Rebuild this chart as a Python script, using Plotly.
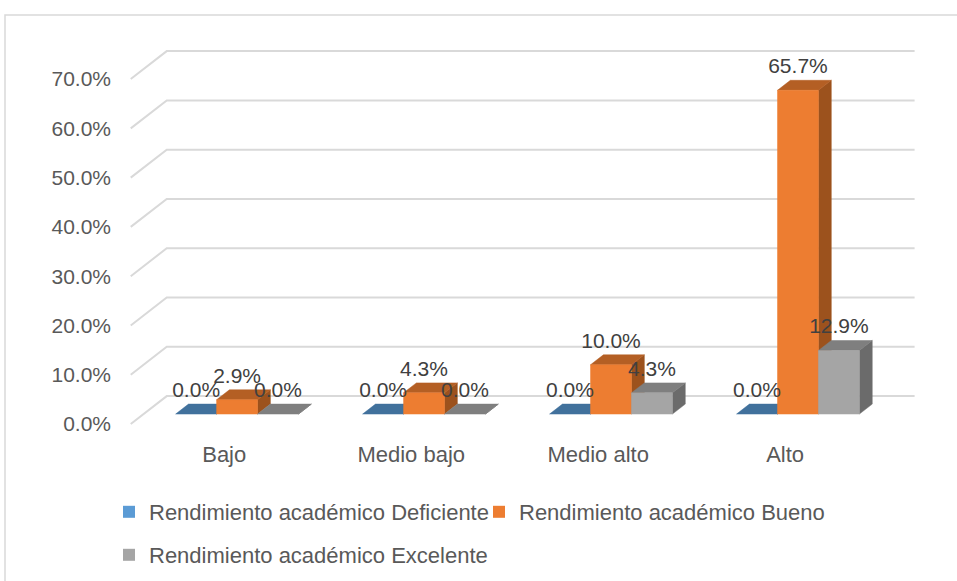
import plotly.graph_objects as go

# ---------------- data ----------------
categories = ["Bajo", "Medio bajo", "Medio alto", "Alto"]
series_names = [
    "Rendimiento académico Deficiente",
    "Rendimiento académico Bueno",
    "Rendimiento académico Excelente",
]
deficiente = [0.0, 0.0, 0.0, 0.0]
bueno = [2.9, 4.3, 10.0, 65.7]
excelente = [0.0, 0.0, 4.3, 12.9]
y_ticks = [0, 10, 20, 30, 40, 50, 60, 70]
y_tick_labels = ["0.0%", "10.0%", "20.0%", "30.0%", "40.0%", "50.0%", "60.0%", "70.0%"]

# ---------------- style ----------------
FONT = "Liberation Sans, Arial, sans-serif"
FSIZE = 21
TEXT_SIZE = 22
AXIS_COLOR = "#595959"
LABEL_COLOR = "#404040"
GRID_COLOR = "#D9D9D9"
series_styles = [
    dict(front="#5B9BD5", top="#41719C", side="#37618A", legend="#5B9BD5"),
    dict(front="#ED7D31", top="#B45F24", side="#9C521D", legend="#ED7D31"),
    dict(front="#A5A5A5", top="#7F7F7F", side="#6B6B6B", legend="#A5A5A5"),
]
# 3D projection (in axis units)
DX_WALL = 0.1925   # x shift from front floor edge to back wall
DY_WALL = 5.67     # y shift (in %) from front floor edge to back wall
D_FRONT = 0.357    # depth fraction of bar front plane
D_BACK = 0.714     # depth fraction of bar back plane
BAR_W = 0.219      # bar width (category units)
LABEL_PAD = 0.4    # extra lift of data labels (in %)

series_values = [deficiente, bueno, excelente]

fig = go.Figure()

# ---- back wall gridlines + left wall diagonals ----
gx, gy = [], []
x_left, x_right = -0.5, len(categories) - 0.5
for v in y_ticks:
    gx += [x_left, x_left + DX_WALL, x_right + DX_WALL, None]
    gy += [v, v + DY_WALL, v + DY_WALL, None]
fig.add_trace(go.Scatter(x=gx, y=gy, mode="lines",
                         line=dict(color=GRID_COLOR, width=2),
                         hoverinfo="skip", showlegend=False))

# ---- 3D bars ----
fx, fy = D_FRONT * DX_WALL, D_FRONT * DY_WALL
bx, by = D_BACK * DX_WALL, D_BACK * DY_WALL
for s, (vals, st) in enumerate(zip(series_values, series_styles)):
    faces = {"side": ([], []), "top": ([], []), "front": ([], [])}
    for i, v in enumerate(vals):
        xl = i + (s - 1) * BAR_W - BAR_W / 2
        xr = xl + BAR_W
        sx, sy = faces["side"]
        sx += [xr + fx, xr + bx, xr + bx, xr + fx, xr + fx, None]
        sy += [fy, by, v + by, v + fy, fy, None]
        tx, ty = faces["top"]
        tx += [xl + fx, xr + fx, xr + bx, xl + bx, xl + fx, None]
        ty += [v + fy, v + fy, v + by, v + by, v + fy, None]
        if v > 0:
            ffx, ffy = faces["front"]
            ffx += [xl + fx, xr + fx, xr + fx, xl + fx, xl + fx, None]
            ffy += [fy, fy, v + fy, v + fy, fy, None]
    for face in ["side", "top", "front"]:
        xs, ys = faces[face]
        if not xs:
            continue
        fig.add_trace(go.Scatter(x=xs, y=ys, mode="lines", fill="toself",
                                 fillcolor=st[face],
                                 line=dict(color=st[face], width=0.5),
                                 hoverinfo="skip", showlegend=False))

# ---- data labels ----
for s, vals in enumerate(series_values):
    lx = [i + (s - 1) * BAR_W + fx for i in range(len(vals))]
    ly = [v + by + LABEL_PAD for v in vals]
    fig.add_trace(go.Scatter(x=lx, y=ly, mode="text",
                             text=[f"{v:.1f}%" for v in vals],
                             textposition="top center",
                             textfont=dict(family=FONT, size=FSIZE, color=LABEL_COLOR),
                             cliponaxis=False, hoverinfo="skip", showlegend=False))

# ---- legend entries (three independent legends) ----
legend_ids = ["legend", "legend2", "legend3"]
for name, st, lid in zip(series_names, series_styles, legend_ids):
    fig.add_trace(go.Scatter(x=[None], y=[None], mode="markers", name=name,
                             marker=dict(symbol="square", size=12, color=st["legend"]),
                             legend=lid, showlegend=True))

W, H = 957, 581
ML, MR, MT, MB = 127, 41, 49, 155
PW, PH = W - ML - MR, H - MT - MB

def px_to_paper_x(px):
    return (px - ML) / PW

def px_to_paper_y(py):
    return (H - MB - py) / PH

legend_common = dict(orientation="h", bgcolor="rgba(0,0,0,0)",
                     font=dict(family=FONT, size=TEXT_SIZE, color=AXIS_COLOR),
                     xanchor="left", yanchor="middle", itemwidth=30)

fig.update_layout(
    width=W, height=H,
    margin=dict(l=ML, r=MR, t=MT, b=MB, autoexpand=False),
    paper_bgcolor="white", plot_bgcolor="white",
    font=dict(family=FONT, size=FSIZE, color=AXIS_COLOR),
    xaxis=dict(range=[-0.52, 3.70], tickvals=list(range(len(categories))),
               ticktext=categories, showgrid=False, zeroline=False, showline=False,
               ticks="", ticklabelstandoff=13, automargin=False,
               tickfont=dict(family=FONT, size=TEXT_SIZE, color=AXIS_COLOR), fixedrange=True),
    yaxis=dict(range=[-0.4, 76.1], tickvals=y_ticks, ticktext=y_tick_labels,
               showgrid=False, zeroline=False, showline=False, ticks="",
               ticklabelstandoff=15, automargin=False,
               tickfont=dict(family=FONT, size=FSIZE, color=AXIS_COLOR), fixedrange=True),
    legend=dict(x=px_to_paper_x(109), y=px_to_paper_y(512), **legend_common),
    legend2=dict(x=px_to_paper_x(479), y=px_to_paper_y(512), **legend_common),
    legend3=dict(x=px_to_paper_x(109), y=px_to_paper_y(555), **legend_common),
    shapes=[dict(type="rect", xref="paper", yref="paper",
                 x0=px_to_paper_x(5), x1=px_to_paper_x(1000),
                 y0=px_to_paper_y(15), y1=px_to_paper_y(640),
                 line=dict(color=GRID_COLOR, width=1.5), layer="below")],
)

fig.write_html("out.html")
